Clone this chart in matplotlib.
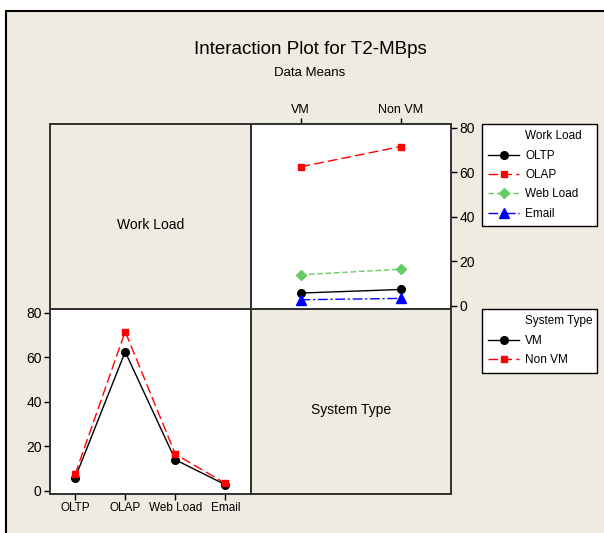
import matplotlib
matplotlib.use('Agg')
from matplotlib import pyplot as plt
from matplotlib.lines import Line2D
from matplotlib.patches import Rectangle

plt.rcParams['font.family'] = ['Liberation Sans', 'DejaVu Sans']

work_loads = ['OLTP', 'OLAP', 'Web Load', 'Email']
system_types = ['VM', 'Non VM']
means_vm = [5.8, 62.4, 14.0, 2.8]
means_nonvm = [7.4, 71.5, 16.5, 3.4]

W, H = 604, 533
beige = '#efebe1'
fig = plt.figure(figsize=(W / 100, H / 100), dpi=100, facecolor='white')

# outer frame (white strip at top/left, like the screenshot)
fig.patches.append(Rectangle((6 / W, -0.1), 1, 1.1 - 11 / H, transform=fig.transFigure,
                             facecolor=beige, edgecolor='black', lw=1.5, zorder=-10))

def ax_px(x0, y0, x1, y1):
    return fig.add_axes([x0 / W, 1 - y1 / H, (x1 - x0) / W, (y1 - y0) / H])

xl, xm, xr = 50, 250.5, 451
yt, ym, yb = 124, 309, 494
ylim = (-1.35, 81.6)

wl_style = {
    'OLTP': dict(color='black', ls='-', marker='o', ms=5.5),
    'OLAP': dict(color='red', ls=(0, (7, 3)), marker='s', ms=5),
    'Web Load': dict(color='#66cc66', ls=(0, (4, 2)), marker='D', ms=5),
    'Email': dict(color='blue', ls=(0, (7, 2, 1.5, 2)), marker='^', ms=6.5),
}
st_style = {
    'VM': dict(color='black', ls='-', marker='o', ms=5.5),
    'Non VM': dict(color='red', ls=(0, (7, 3)), marker='s', ms=5),
}

def frame(ax, xsize=9):
    for s in ax.spines.values():
        s.set_linewidth(1.4)
        s.set_color('#303030')
    ax.tick_params(direction='out', length=4, width=1, labelsize=10, pad=2)
    ax.tick_params(axis='x', labelsize=xsize)

# top-left label panel
ax_tl = ax_px(xl, yt, xm, ym)
ax_tl.set_facecolor(beige)
ax_tl.set_xticks([]); ax_tl.set_yticks([])
ax_tl.text(0.5, 0.455, 'Work Load', transform=ax_tl.transAxes, ha='center', va='center', fontsize=10)
frame(ax_tl)

# bottom-right label panel
ax_br = ax_px(xm, ym, xr, yb)
ax_br.set_facecolor(beige)
ax_br.set_xticks([]); ax_br.set_yticks([])
ax_br.text(0.5, 0.455, 'System Type', transform=ax_br.transAxes, ha='center', va='center', fontsize=10)
frame(ax_br)

# top-right: mean by system type, one line per work load
ax_tr = ax_px(xm, yt, xr, ym)
for i, wl in enumerate(work_loads):
    ax_tr.plot([0, 1], [means_vm[i], means_nonvm[i]], lw=1, label=wl, **wl_style[wl])
ax_tr.set_xlim(-0.5, 1.5)
ax_tr.set_ylim(*ylim)
ax_tr.set_xticks([0, 1], system_types)
ax_tr.set_yticks([0, 20, 40, 60, 80])
ax_tr.xaxis.tick_top()
ax_tr.yaxis.tick_right()
frame(ax_tr)

# bottom-left: mean by work load, one line per system type
ax_bl = ax_px(xl, ym, xm, yb)
x = list(range(len(work_loads)))
ax_bl.plot(x, means_vm, lw=1, label='VM', **st_style['VM'])
ax_bl.plot(x, means_nonvm, lw=1, label='Non VM', **st_style['Non VM'])
ax_bl.set_xlim(-0.5, 3.5)
ax_bl.set_ylim(*ylim)
ax_bl.set_xticks(x, work_loads)
ax_bl.set_yticks([0, 20, 40, 60, 80])
frame(ax_bl, xsize=8.5)

# legends (title as first, blank-handle row so it lines up with the labels)
blank = Line2D([], [], ls='none')
leg_kw = dict(loc='upper left', mode='expand', borderaxespad=0, fontsize=8.5,
              frameon=True, fancybox=False, edgecolor='black', handlelength=2.6,
              handletextpad=0.5, labelspacing=0.62, borderpad=0.55)
h1 = [blank] + [Line2D([], [], lw=1, **wl_style[w]) for w in work_loads]
leg1 = fig.legend(h1, ['Work Load'] + work_loads,
                  bbox_to_anchor=(482 / W, 0, 115 / W, 1 - 124 / H), **leg_kw)
h2 = [blank] + [Line2D([], [], lw=1, **st_style[s]) for s in system_types]
leg2 = fig.legend(h2, ['System Type'] + system_types,
                  bbox_to_anchor=(482 / W, 0, 115 / W, 1 - 309 / H), **leg_kw)
for leg in (leg1, leg2):
    leg.get_frame().set_linewidth(1)
    leg.get_frame().set_facecolor('white')
    leg.get_frame().set_alpha(1)

fig.text(310 / W, 1 - 50 / H, 'Interaction Plot for T2-MBps', ha='center', va='center', fontsize=13.5)
fig.text(310 / W, 1 - 73 / H, 'Data Means', ha='center', va='center', fontsize=9.5)

fig.savefig('out.png', dpi=100, facecolor=fig.get_facecolor())
